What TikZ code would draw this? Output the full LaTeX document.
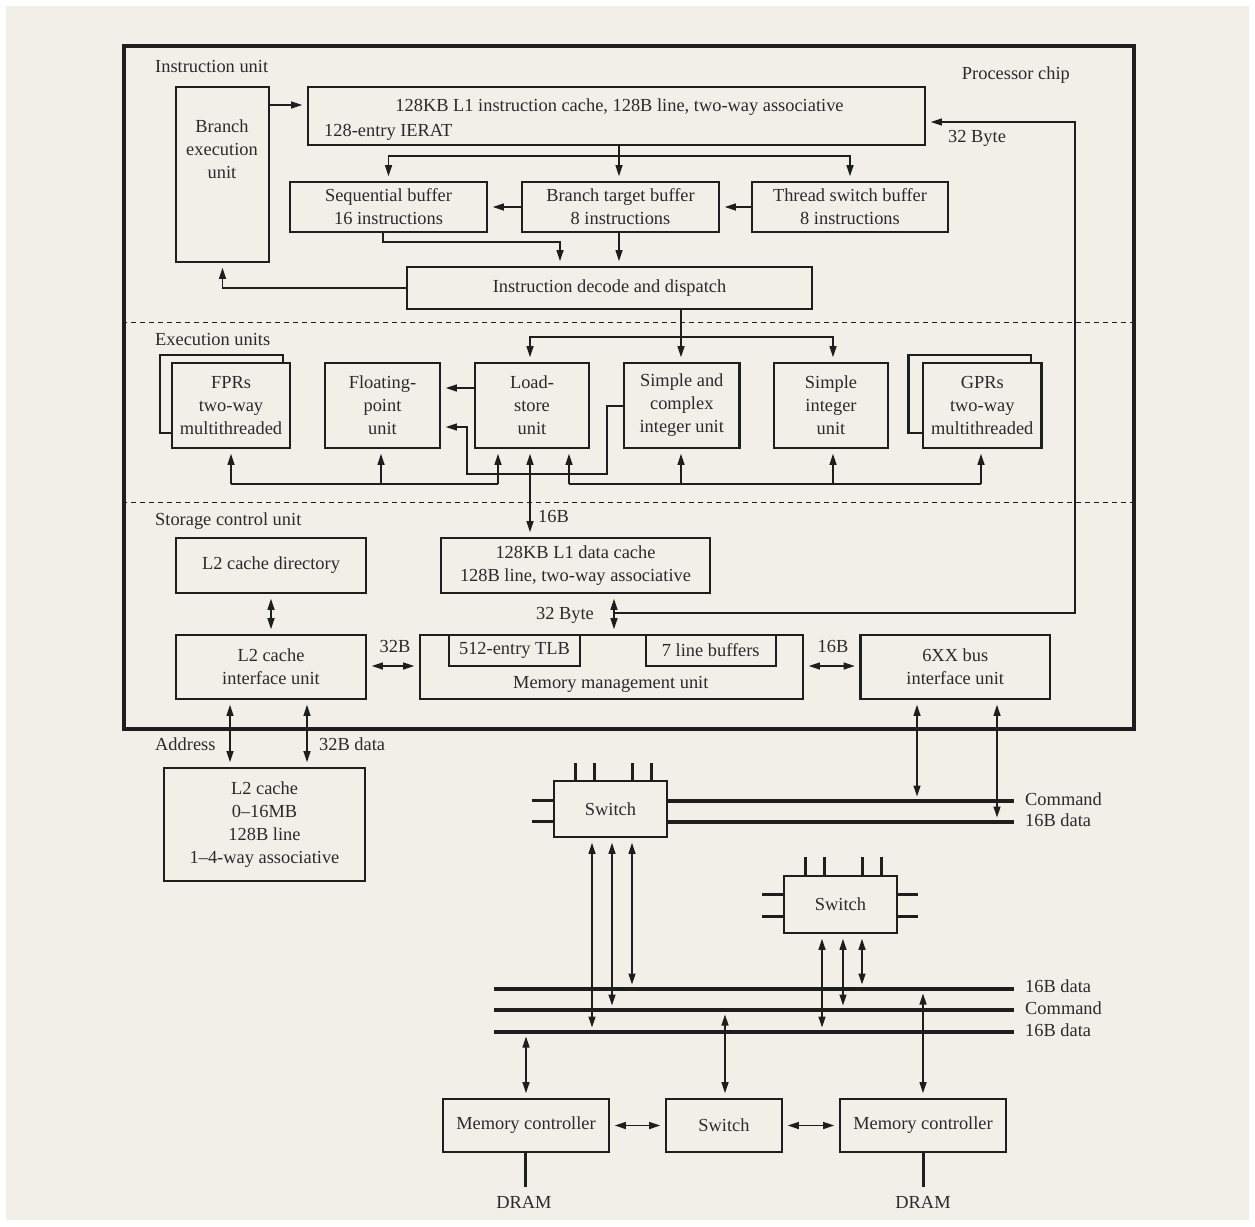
\documentclass[tikz,border=0pt]{standalone}
\usepackage{fontspec}
\setmainfont{Liberation Serif}
\usetikzlibrary{arrows.meta}
\definecolor{bg}{HTML}{F2EFE9}
\definecolor{ink}{HTML}{1E1E1E}
\definecolor{txt}{HTML}{2A2A2A}
\begin{document}
\begin{tikzpicture}[x=1pt,y=-1pt,
  every node/.style={font=\fontsize{18.4}{23}\selectfont, text=txt},
  box/.style={draw=ink, line width=2.6pt, fill=bg, inner sep=0pt, align=center},
  sz/.style n args={2}{minimum width=#1pt, minimum height=#2pt},
  conn/.style={draw=ink, line width=1.3pt},
  arr/.style={conn, -{Triangle[length=11pt,width=7pt]}, shorten >=4.5pt},
  arr2/.style={conn, {Triangle[length=11pt,width=7pt]}-{Triangle[length=11pt,width=7pt]}, shorten >=4.5pt, shorten <=4.5pt},
  bus/.style={draw=ink, line width=3.6pt},
  stub/.style={draw=ink, line width=3pt},
  lbl/.style={inner sep=0pt},
  sep/.style={draw=ink, line width=1pt, dash pattern=on 5pt off 4pt}]

% background
\fill[white] (0,0) rectangle (1255,1226);
\fill[bg] (6,6) rectangle (1249,1220);
\useasboundingbox (0,0) rectangle (1255,1226);

% processor chip
\node[draw=ink, line width=3.2pt, inner sep=0pt, sz={1010}{683}] (chip) at (629,387.5) {};
\draw[sep] (chip.west |- 0,322) -- (chip.east |- 0,322);
\draw[sep] (chip.west |- 0,502) -- (chip.east |- 0,502);

% section labels
\node[lbl, anchor=base west] (lIU) at (155,72) {Instruction unit};
\node[lbl, anchor=base east] (lPC) at (1070,79) {Processor chip};
\node[lbl, anchor=base west] (lEU) at (155,345) {Execution units};
\node[lbl, anchor=base west] (lSC) at (155,525) {Storage control unit};

% instruction unit
\node[box, sz={93}{175}] (bexu) at (222.5,174.5) {};
\node[lbl, align=center] (bexut) at (222,149) {Branch\\execution\\unit};
\node[box, sz={617}{58}] (icache) at (616.5,116) {};
\node[lbl, anchor=base] (icacheA) at (619.5,111) {128KB L1 instruction cache, 128B line, two-way associative};
\node[lbl, anchor=base west] (icacheB) at (324,136) {128-entry IERAT};
\node[box, sz={197}{50}] (seqbuf) at (388.5,207) {Sequential buffer\\16 instructions};
\node[box, sz={197}{50}] (btb) at (620.5,207) {Branch target buffer\\8 instructions};
\node[box, sz={196}{50}] (tsb) at (850,207) {Thread switch buffer\\8 instructions};
\node[box, sz={405}{42}] (decode) at (609.5,288) {Instruction decode and dispatch};
\node[lbl, anchor=base west] (l32a) at (948,142.5) {32 Byte};

% execution units
\node[box, sz={123}{78}] (fprb) at (221.5,394) {};
\node[box, sz={118}{85}] (fpr) at (231,405.5) {FPRs\\two-way\\multithreaded};
\node[box, sz={115}{85}] (fpu) at (382.5,405.5) {Floating-\\point\\unit};
\node[box, sz={114}{85}] (lsu) at (532,405.5) {Load-\\store\\unit};
\node[box, sz={115.5}{85}] (sci) at (681.75,405.5) {Simple and\\complex\\integer unit};
\node[box, sz={114}{85}] (siu) at (831,405.5) {Simple\\integer\\unit};
\node[box, sz={122.5}{78}] (gprb) at (969.75,394) {};
\node[box, sz={118.5}{85}] (gpr) at (982.25,405.5) {GPRs\\two-way\\multithreaded};

% storage control unit
\node[box, sz={190}{55}] (l2dir) at (271,565.5) {L2 cache directory};
\node[box, sz={269}{55}] (l1d) at (575.5,565.5) {128KB L1 data cache\\128B line, two-way associative};
\node[box, sz={190}{64}] (l2if) at (271,667) {L2 cache\\interface unit};
\node[box, sz={383}{64}] (mmu) at (611.5,667) {};
\node[lbl, anchor=base west] (mmut) at (513,688) {Memory management unit};
\node[box, line width=2pt, sz={131}{31}] (tlb) at (514.5,650.5) {512-entry TLB};
\node[box, line width=2pt, sz={130.5}{31}] (lbuf) at (710.75,650.5) {7 line buffers};
\node[box, sz={189.5}{64}] (bus6) at (955.25,667) {6XX bus\\interface unit};
\node[lbl, anchor=base west] (l16a) at (538,522.7) {16B};
\node[lbl, anchor=base east] (l32b) at (594,619) {32 Byte};
\node[lbl, anchor=base] (l32c) at (395,652.7) {32B};
\node[lbl, anchor=base] (l16b) at (833,652.7) {16B};

% outside chip
\node[box, sz={201}{113}] (l2c) at (264.5,824.5) {L2 cache\\0–16MB\\128B line\\1–4-way associative};
\node[lbl, anchor=base west] (lAd) at (155,750.7) {Address};
\node[lbl, anchor=base west] (l32d) at (319,750.7) {32B data};

\node[box, sz={113}{56}] (sw1) at (610.5,809) {Switch};
\node[box, sz={113}{57}] (sw2) at (840.5,904.5) {Switch};
\node[box, sz={166}{53}] (mc1) at (526,1125.5) {Memory controller};
\node[box, sz={116}{53}] (sw3) at (724,1125.5) {Switch};
\node[box, sz={166}{53}] (mc2) at (923,1125.5) {Memory controller};

% bus labels
\node[lbl, anchor=base west] (bCmd1) at (1025,805) {Command};
\node[lbl, anchor=base west] (bDat1) at (1025,826.7) {16B data};
\node[lbl, anchor=base west] (bDat2) at (1025,992) {16B data};
\node[lbl, anchor=base west] (bCmd2) at (1025,1014.7) {Command};
\node[lbl, anchor=base west] (bDat3) at (1025,1036.7) {16B data};
\node[lbl, anchor=base] (dram1) at (524,1208) {DRAM};
\node[lbl, anchor=base] (dram2) at (923,1208) {DRAM};

% ---- instruction unit connectors
\draw[arr] (bexu.east |- 0,105) -- (icache.west |- 0,105);
\coordinate (split1) at (619,156);
\draw[conn] (icache.south -| split1) -- (split1);
\draw[arr] (split1) -| (seqbuf.north);
\draw[arr] (split1) -| (tsb.north);
\draw[arr] (icache.south -| split1) -- (btb.north -| split1);
\draw[arr] (btb.west) -- (seqbuf.east);
\draw[arr] (tsb.west) -- (btb.east);
\coordinate (sqd) at (383,242);
\draw[arr] (seqbuf.south -| sqd) -- (sqd) -| (decode.north -| 560,0);
\draw[arr] (btb.south -| split1) -- (decode.north -| split1);
\draw[arr] (decode.west) -| (bexu.south);

% ---- execution connectors
\coordinate (split2) at (681,337);
\draw[conn] (decode.south -| split2) -- (split2);
\draw[arr] (split2) -| (lsu.north -| 530,0);
\draw[arr] (split2) -- (sci.north -| split2);
\draw[arr] (split2) -| (siu.north -| 833,0);
\draw[arr] (lsu.west |- 0,388) -- (fpu.east |- 0,388);
\draw[arr] (sci.west |- 0,406) -- (607,406) -- (607,474) -- (467,474) -- (467,427) -- (fpu.east |- 0,427);
\coordinate (bl1) at (231,484);
\coordinate (bl2) at (381,484);
\coordinate (bl3) at (498,484);
\draw[conn] (bl1) -- (bl3);
\draw[arr] (bl1) -- (fpr.south);
\draw[arr] (bl2) -- (fpu.south -| bl2);
\draw[arr] (bl3) -- (lsu.south -| bl3);
\coordinate (br1) at (569,484);
\coordinate (br2) at (681,484);
\coordinate (br3) at (833,484);
\coordinate (br4) at (981,484);
\draw[conn] (br1) -- (br4);
\draw[arr] (br1) -- (lsu.south -| br1);
\draw[arr] (br2) -- (sci.south -| br2);
\draw[arr] (br3) -- (siu.south -| br3);
\draw[arr] (br4) -- (gpr.south -| br4);

% ---- storage connectors
\draw[arr2] (lsu.south -| 530,0) -- (l1d.north -| 530,0);
\draw[arr2] (l2dir.south) -- (l2if.north);
\draw[arr2] (l2if.east |- 0,666) -- (mmu.west |- 0,666);
\draw[arr2] (mmu.east |- 0,666) -- (bus6.west |- 0,666);
\coordinate (ret1) at (614,613);
\draw[arr2] (l1d.south -| ret1) -- (mmu.north -| ret1);
\draw[arr] (ret1) -- (1075,613) -- (1075,122) -- (icache.east |- 0,122);
\draw[arr2] (l2if.south -| 230,0) -- (l2c.north -| 230,0);
\draw[arr2] (l2if.south -| 307,0) -- (l2c.north -| 307,0);

% ---- system buses
\coordinate (cmdE) at (1014,801);
\coordinate (datE) at (1014,822);
\draw[bus] (sw1.east |- cmdE) -- (cmdE);
\draw[bus] (sw1.east |- datE) -- (datE);
\draw[arr2] (bus6.south -| 917,0) -- (917,801);
\draw[arr2] (bus6.south -| 997,0) -- (997,822);

\coordinate (lD1W) at (494,989);  \coordinate (lD1E) at (1014,989);
\coordinate (lCW) at (494,1010);  \coordinate (lCE) at (1014,1010);
\coordinate (lD2W) at (494,1032); \coordinate (lD2E) at (1014,1032);
\draw[bus] (lD1W) -- (lD1E);
\draw[bus] (lCW) -- (lCE);
\draw[bus] (lD2W) -- (lD2E);

% switch stubs
\foreach \x in {575.7,594.3,632,651} \draw[stub] (\x,763) -- (\x,781);
\foreach \y in {800,821} \draw[stub] (531.7,\y) -- (sw1.west |- 0,\y);
\foreach \x in {805,824,862,881} \draw[stub] (\x,857) -- (\x,876);
\foreach \y in {894,916} {
  \draw[stub] (762,\y) -- (sw2.west |- 0,\y);
  \draw[stub] (sw2.east |- 0,\y) -- (918,\y);
}

% switch to lower buses
\draw[arr2] (sw1.south -| 592,0) -- (592,1032);
\draw[arr2] (sw1.south -| 612,0) -- (612,1010);
\draw[arr2] (sw1.south -| 632,0) -- (632,989);
\draw[arr2] (sw2.south -| 822,0) -- (822,1032);
\draw[arr2] (sw2.south -| 843,0) -- (843,1010);
\draw[arr2] (sw2.south -| 862,0) -- (862,989);

% memory side
\draw[arr2] (526,1032) -- (mc1.north);
\draw[arr2] (725,1010) -- (sw3.north -| 725,0);
\draw[arr2] (923,989) -- (mc2.north);
\draw[arr2] (mc1.east) -- (sw3.west);
\draw[arr2] (sw3.east) -- (mc2.west);
\draw[stub] (mc1.south -| 525,0) -- (525,1187);
\draw[stub] (mc2.south) -- (923,1187);
\end{tikzpicture}
\end{document}
